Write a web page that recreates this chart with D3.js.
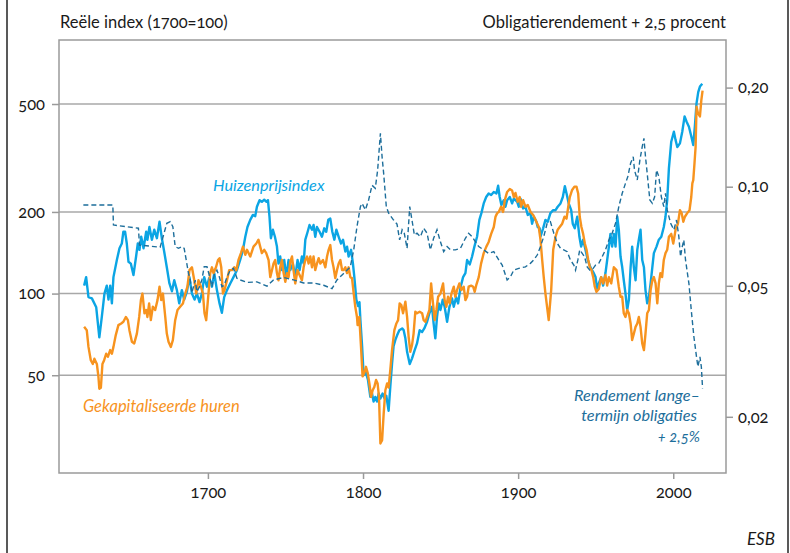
<!DOCTYPE html>
<html>
<head>
<meta charset="utf-8">
<script src="https://cdn.jsdelivr.net/npm/d3@7"></script>
<style>
  body { margin: 0; background: #fff; }
  svg text { font-family: Lato, "Open Sans", sans-serif; font-variant-numeric: oldstyle-nums; }
</style>
</head>
<body>
<div id="chart"></div>
<script>
// house price index (1700=100)
var huizenprijs = [
  [1620.2,107],[1621.5,115],[1623,97],[1625.2,96],[1628,89],[1630,69],[1631.6,82],[1633.3,100],[1634.8,107],[1635.9,95],
  [1637,107],[1638.1,92],[1639.1,115],[1641.3,133],[1643,147],[1644.5,153],[1645.5,169],[1646.6,169],[1647.7,153],[1648.8,131],
  [1650.3,129],[1652,117],[1653.7,137],[1654.8,153],[1655.9,145],[1657,162],[1658.5,147],[1660.2,169],[1661,158],[1662.3,176],
  [1663.9,158],[1665.4,172],[1667.1,160],[1668.8,184],[1670.3,160],[1671.8,143],[1673.5,125],[1675.2,109],[1676.8,102],[1678.3,112],
  [1680,103],[1681.5,92],[1683.2,103],[1684.7,95],[1686.5,102],[1688.1,115],[1689.7,100],[1691.4,95],[1692.9,100],[1694.6,93],
  [1696.1,100],[1697.6,115],[1699.4,106],[1700.8,114],[1702.6,106],[1704.1,119],[1705.8,103],[1707.5,92],[1709,85],[1710.5,97],
  [1712.3,103],[1714.4,109],[1716.5,115],[1718.7,122],[1720.8,133],[1722.6,145],[1724.1,162],[1725.5,176],[1727.3,187],[1729,195],
  [1730.5,193],[1731.6,209],[1733.3,221],[1734.8,218],[1736.3,222],[1737.6,218],[1738.7,221],[1739.7,192],[1740.6,160],[1741.9,172],
  [1743.2,162],[1744.5,149],[1745.5,129],[1746.6,137],[1747.7,122],[1749.2,133],[1750.5,115],[1752,133],[1753.1,122],[1754.8,129],
  [1756.3,115],[1757.8,133],[1759.1,122],[1760.6,137],[1761.7,129],[1762.8,158],[1764.3,169],[1765.5,179],[1767.1,172],[1768.1,179],
  [1769.2,162],[1770.3,176],[1772,169],[1773.5,162],[1775,174],[1776.3,169],[1777.6,187],[1778.9,189],[1780.2,169],[1781.5,158],
  [1782.8,172],[1784.3,162],[1785.8,153],[1787.1,158],[1788.6,143],[1789.7,149],[1790.7,137],[1792.3,145],[1793.5,129],[1794.4,115],
  [1795.7,95],[1796.8,90],[1797.7,93],[1798.3,80],[1799.4,64],[1800.4,50],[1801.9,51],[1803.2,48],[1804.7,41.6],[1805.8,42.8],
  [1806.8,40],[1807.9,41.6],[1809,40],[1810.1,42.8],[1811.2,41],[1812.6,42.8],[1813.9,41],[1815,42],[1816.5,37],[1817.6,45.5],
  [1818.7,55],[1819.7,64],[1820.8,67.4],[1821.9,70],[1823.4,73.3],[1825.2,74.4],[1826.2,73.3],[1827.3,68.4],[1828.4,61],[1830.1,55],
  [1831.6,57.7],[1833.3,61.9],[1834.8,65.5],[1836.5,73.3],[1838.1,72.2],[1839.5,74.4],[1841.3,78.7],[1842.8,84.6],[1844.5,89.4],[1845.5,77.6],
  [1846.6,68.4],[1847.7,82],[1848.8,92],[1849.9,87],[1851.4,95],[1852.6,89.4],[1854.2,78.7],[1855.7,89.4],[1857.4,96],[1858.5,89.4],
  [1860,97],[1861.3,92],[1862.8,105],[1864.5,115],[1866,119],[1867.1,133],[1868.8,128],[1870.3,137],[1871.8,149],[1873.5,162],
  [1875,187],[1876.3,198],[1877.8,215],[1879.4,227],[1881,234],[1882.6,231],[1884.3,237],[1886,234],[1887.1,250],[1888.1,227],
  [1889.2,212],[1890.7,221],[1891.8,209],[1892.9,221],[1894.6,227],[1896.1,215],[1897.2,224],[1899.4,218],[1900.4,209],[1901.5,224],
  [1903.2,206],[1904.7,209],[1906.2,195],[1907.9,198],[1909,181],[1910.1,192],[1911.8,184],[1912.6,176],[1913.9,174],[1914.4,162],
  [1916.1,174],[1917.6,187],[1919.1,184],[1920.8,198],[1922.6,203],[1924.1,203],[1925.5,209],[1927.3,215],[1928.8,227],[1930.1,249],
  [1931.2,234],[1932.6,215],[1934.2,203],[1935.2,181],[1936.5,174],[1938.1,192],[1939.5,162],[1940.6,149],[1941.9,158],[1943.4,145],
  [1944.9,133],[1946.6,125],[1948.4,120],[1949.9,115],[1951,103],[1952,109],[1953.5,115],[1954.8,107],[1956.3,119],[1957.4,133],
  [1958.5,149],[1959.5,166],[1960.6,149],[1961.7,166],[1962.8,149],[1963.9,192],[1964.9,172],[1966,137],[1967.1,125],[1968.1,112],
  [1969.2,100],[1970.3,87],[1971.4,95],[1972.5,125],[1973.5,149],[1974.6,125],[1975.7,112],[1976.8,145],[1977.8,158],[1978.9,172],
  [1980,133],[1981.1,125],[1982.1,103],[1983.2,92],[1984.3,97],[1985.4,109],[1986.5,125],[1987.5,141],[1989.2,149],[1990.7,158],
  [1992.3,162],[1993.9,176],[1995,192],[1996.1,221],[1997.2,290],[1998.7,363],[2000.4,395],[2001.5,368],[2002.6,347],[2004.3,358],
  [2005.8,395],[2007.3,450],[2008.6,430],[2010.1,412],[2011.6,380],[2012.9,353],[2013.9,412],[2015,503],[2016.1,553],[2017.2,580],
  [2018.7,594]
];

// capitalised rents (1700=100)
var huren = [
  [1620.2,75.4],[1621.9,73.3],[1623,63.6],[1624.5,56.8],[1625.8,55],[1626.8,57.5],[1628.4,55],[1629.4,49.5],[1630,44.6],[1631,45],
  [1632,55],[1633.1,56.8],[1634.4,60],[1635.5,58.5],[1637,61.9],[1638.1,60],[1639.1,63.6],[1640.6,70.3],[1642.3,76.5],[1644.1,77.6],
  [1645.5,78.7],[1647.1,82],[1648.4,79.8],[1649.4,73.3],[1651,66.4],[1652.5,65.5],[1654.2,71.2],[1655.7,82],[1656.8,94.6],[1657.8,100],
  [1659.1,84.6],[1660.2,87],[1661,82],[1662.1,92],[1663.2,79.8],[1664.5,89.4],[1666,87],[1667.5,94.6],[1668.8,106],[1669.9,94.6],
  [1671,100],[1672.5,82],[1673.5,71.2],[1674.6,66.4],[1676.1,63.6],[1677.4,67.4],[1678.9,79.8],[1680.4,87],[1682.1,89.4],[1683.9,92],
  [1685.4,100],[1686.8,106],[1688.1,122],[1689.7,125],[1691.2,112],[1692.5,100],[1693.9,112],[1695.5,106],[1696.8,100],[1697.8,84.6],
  [1698.9,79.8],[1700,94.6],[1701.5,119],[1702.6,125],[1703.6,119],[1705.2,125],[1706.5,133],[1707.5,135],[1708.6,125],[1709.7,100],
  [1710.7,103],[1712.3,112],[1713.7,122],[1715.5,122],[1717,125],[1718.3,122],[1719.7,133],[1721.3,141],[1722.6,149],[1724.1,139],
  [1725.2,145],[1727.3,137],[1729.4,149],[1731.2,153],[1732.6,158],[1733.7,149],[1734.8,141],[1736.3,145],[1737.6,141],[1739.1,133],
  [1740.2,115],[1741.3,122],[1742.3,129],[1743.4,133],[1744.5,119],[1745.5,112],[1746.6,125],[1747.7,133],[1748.8,119],[1749.9,110.5],
  [1751,119],[1752,115],[1753.1,131],[1754.2,137],[1755.2,122],[1756.3,109],[1757.8,122],[1759.1,117],[1760.6,112],[1761.7,125],
  [1762.8,133],[1763.9,137],[1764.9,129],[1766,137],[1767.1,125],[1768.1,137],[1769.2,122],[1770.3,129],[1771.4,135],[1772.5,129],
  [1774.2,133],[1775.7,125],[1776.8,137],[1777.8,145],[1778.9,151],[1780,133],[1781,125],[1782.1,114],[1783.2,122],[1784.3,129],
  [1785.4,133],[1786.5,122],[1787.5,122],[1788.6,125],[1789.7,119],[1790.7,125],[1791.8,115],[1792.9,114],[1794,100],[1795,89.4],
  [1796.1,82],[1796.5,76.5],[1797.6,82],[1798.7,63.6],[1799.7,49.5],[1800.8,51],[1801.9,53.7],[1803,51],[1804.1,46.6],[1805.2,41.6],
  [1806.2,44],[1807.3,45.3],[1808.4,48],[1809.4,46.6],[1810.3,41.6],[1811.2,28],[1812.3,28.8],[1813.3,36],[1814.4,44],[1815.5,46.6],
  [1816.5,45],[1817.6,52.4],[1818.7,61.9],[1820.2,73.3],[1821.5,77.6],[1822.6,79.8],[1823.6,92],[1824.7,90.7],[1825.8,84.6],[1827.3,93.3],
  [1828.4,82],[1829.4,69.3],[1830.5,61],[1831.6,64.6],[1832.6,71.2],[1833.7,85.7],[1834.8,84.6],[1836.5,85.7],[1838.1,84.6],[1839.1,79.8],
  [1840.2,78.7],[1841.3,82],[1842.8,87],[1843.9,109],[1844.9,94.6],[1846.2,79.8],[1847.3,87],[1848.4,97.3],[1849.9,100],[1851.6,109],
  [1852.6,94.6],[1853.7,89.4],[1854.8,97.3],[1855.9,92],[1857,100],[1858.5,106],[1859.5,97.3],[1860.6,103],[1862.1,109],[1863.4,103],
  [1864.9,106],[1866,94.6],[1867.1,97.3],[1868.1,106],[1869.7,107],[1871,106],[1872,101.5],[1873.1,108],[1874.6,115],[1876.1,129],
  [1877.8,141],[1879.5,149],[1881,155],[1882.6,166],[1884.3,176],[1885.4,192],[1886.5,198],[1887.5,200],[1889,209],[1890.3,200],
  [1891.4,221],[1892.9,237],[1894.6,243],[1896.1,240],[1897.2,227],[1898.3,235],[1899.7,218],[1901,227],[1901.9,209],[1903.2,221],
  [1904.7,209],[1906.2,212],[1908,200],[1909.7,195],[1911.2,187],[1912.3,181],[1913.3,176],[1914.4,158],[1915.5,133],[1916.5,115],
  [1917.6,100],[1919.7,79.8],[1921.3,103],[1922.6,145],[1924.1,162],[1925.5,172],[1926.8,176],[1928.4,181],[1929.9,192],[1931.2,189],
  [1932.3,209],[1933.3,227],[1934.8,241],[1936.3,248],[1937.6,248],[1938.7,234],[1939.7,192],[1940.8,176],[1941.9,166],[1943,153],
  [1944.1,145],[1945.2,133],[1946.2,125],[1947.3,122],[1948.4,115],[1949.4,106],[1950.5,101.5],[1952,104],[1953.5,115],[1954.8,109],
  [1956.3,117],[1957.4,107],[1958.5,115],[1960,109],[1961.7,125],[1963.4,122],[1964.9,106],[1966,97.3],[1967.1,97.3],[1968.1,84.6],
  [1969.2,82],[1970.3,87],[1971.4,84.6],[1972.5,77.6],[1973.5,67.4],[1974.6,71.2],[1975.7,75.4],[1976.8,77.6],[1977.8,82],[1978.9,75.4],
  [1980,65.5],[1981.1,61.9],[1982.1,71.2],[1983.2,84.6],[1984.3,87],[1985.4,103],[1986.5,112],[1987.5,115],[1988.6,109],[1989.7,92],
  [1990.7,109],[1991.7,119],[1992.8,115],[1993.9,133],[1995,141],[1996.1,145],[1997.2,162],[1998.7,166],[2000,153],[2001.5,172],
  [2003,181],[2004.3,203],[2005.4,198],[2006.5,184],[2007.5,192],[2009,198],[2010.5,203],[2011.6,227],[2012.3,255],[2012.9,262],
  [2013.7,303],[2014.4,347],[2015,489],[2015.9,463],[2017.2,450],[2018.1,517],[2018.9,560]
];

// long-term bond yield + 2.5% (right axis)
var rendement = [
  [1619.7,0.088],[1638.7,0.088],[1639.1,0.0765],[1655.2,0.0748],[1655.9,0.0665],[1669.2,0.0655],[1673.5,0.0774],[1675.7,0.0783],
  [1677.4,0.0756],[1678.9,0.0658],[1681,0.065],[1683.2,0.0658],[1684.7,0.065],[1686,0.0599],[1687.5,0.0545],[1688.6,0.0521],
  [1689.7,0.0476],[1690.7,0.0497],[1691.8,0.052],[1692.9,0.048],[1694.6,0.0497],[1696.1,0.0521],[1697.6,0.0571],[1699.4,0.0571],
  [1700.8,0.054],[1702.6,0.0497],[1704.1,0.054],[1705.8,0.0558],[1707.5,0.053],[1709,0.0497],[1710.5,0.0502],[1712.3,0.0532],
  [1714.4,0.0558],[1716.5,0.0565],[1718.7,0.0527],[1720.8,0.0521],[1725.2,0.0512],[1731.6,0.0514],[1738.1,0.0499],[1742.3,0.0521],
  [1748.8,0.053],[1755.2,0.0521],[1761.7,0.051],[1768.1,0.051],[1774.6,0.0502],[1780,0.049],[1783.2,0.0521],[1787.5,0.0545],
  [1791.8,0.0571],[1794,0.0643],[1796.1,0.0756],[1798.3,0.087],[1799.4,0.089],[1801.5,0.085],[1803.6,0.0911],[1805.8,0.101],
  [1807.9,0.0989],[1809.4,0.112],[1811.2,0.1453],[1812.3,0.123],[1813.3,0.1098],[1815,0.087],[1816.5,0.0831],[1819.7,0.0792],
  [1821.9,0.077],[1823.6,0.0689],[1825.2,0.074],[1826.6,0.0722],[1828.4,0.065],[1830.1,0.087],[1831.6,0.079],[1833.1,0.0713],
  [1834.8,0.0722],[1837,0.0705],[1839.1,0.0748],[1841.3,0.0722],[1843.4,0.0643],[1845.5,0.0697],[1847.7,0.074],[1849.9,0.068],
  [1852,0.0635],[1854.2,0.0658],[1856.3,0.0643],[1859.5,0.0643],[1862.8,0.065],[1866,0.0697],[1868.1,0.0722],[1870.3,0.0705],
  [1872.5,0.068],[1874.6,0.0658],[1877.8,0.0643],[1881,0.0627],[1884.3,0.0635],[1887.5,0.0599],[1889.7,0.0578],[1892.9,0.0521],
  [1895,0.0532],[1897.2,0.0558],[1900.4,0.0565],[1904.7,0.0571],[1907.9,0.0585],[1910.1,0.0599],[1912.3,0.062],[1914.4,0.0658],
  [1916.5,0.0705],[1918.7,0.0774],[1920.8,0.0783],[1923,0.0722],[1925.2,0.0673],[1927.3,0.065],[1929.4,0.0643],[1931.6,0.0635],
  [1933.7,0.0599],[1935.9,0.0578],[1937,0.0558],[1938.5,0.0599],[1939.7,0.0643],[1941.3,0.0627],[1942.8,0.0613],[1944.5,0.0571],
  [1946.2,0.0558],[1948.4,0.0565],[1949.9,0.0578],[1952,0.0585],[1954.2,0.0613],[1956.3,0.0643],[1958.5,0.0689],[1960.6,0.0722],
  [1962.8,0.0774],[1964.9,0.087],[1967.1,0.0955],[1969.2,0.1024],[1970.7,0.1073],[1972.5,0.1178],[1974.2,0.1233],[1975,0.1124],
  [1976.8,0.1048],[1978.5,0.1206],[1980,0.1323],[1981.1,0.1403],[1982.1,0.1233],[1983.2,0.1098],[1984.9,0.0911],[1986.5,0.089],
  [1988,0.0932],[1989.2,0.1124],[1990.7,0.1073],[1992.3,0.0932],[1993.9,0.087],[1995,0.0955],[1996.1,0.085],[1998.3,0.0774],
  [2000.4,0.074],[2002.1,0.0792],[2003.6,0.0705],[2004.7,0.0613],[2005.8,0.0658],[2006.8,0.0689],[2007.9,0.0599],[2010.1,0.0508],
  [2011.6,0.0422],[2013.3,0.035],[2015,0.0304],[2015.9,0.0284],[2017.2,0.0304],[2018.1,0.0284],[2018.9,0.0244]
];

// tick values
var yearTicks = [1700, 1800, 1900, 2000];
var leftTicks = [50, 100, 200, 500];
var rightTicks = [0.02, 0.05, 0.10, 0.20];

var svgWidth = 790;
var svgHeight = 553;
var margin = { top: 40, right: 64, bottom: 80, left: 59 };
var width = svgWidth - margin.left - margin.right;
var height = svgHeight - margin.top - margin.bottom;

var blue = "#0ba5e4";
var orange = "#f7931e";
var darkBlue = "#1d6e9b";
var grey = "#9a9a9a";

var svg = d3.select("#chart")
  .append("svg")
  .attr("width", svgWidth)
  .attr("height", svgHeight);

// outer frame edges
svg.append("line").attr("x1", 7).attr("x2", 7).attr("y1", 0).attr("y2", svgHeight)
  .attr("stroke", "#222").attr("stroke-width", 1.5);
svg.append("line").attr("x1", 788).attr("x2", 788).attr("y1", 0).attr("y2", svgHeight)
  .attr("stroke", "#222").attr("stroke-width", 1.5);

var chartGroup = svg.append("g")
  .attr("transform", `translate(${margin.left}, ${margin.top})`);

// scales
var xScale = d3.scaleLinear().domain([1604, 2034]).range([0, width]);
var yLeft = d3.scaleLog().domain([21.8, 861]).range([height, 0]);
var yRight = d3.scaleLog().domain([0.0135, 0.279]).range([height, 0]);

var nl = d3.formatLocale({ decimal: ",", thousands: ".", grouping: [3], currency: ["€", ""] });

// gridlines
chartGroup.selectAll(".grid")
  .data(leftTicks)
  .enter()
  .append("line")
  .attr("x1", 0)
  .attr("x2", width)
  .attr("y1", d => yLeft(d))
  .attr("y2", d => yLeft(d))
  .attr("stroke", "#a8a8a8")
  .attr("stroke-width", 1.5);

// axes
var leftAxis = d3.axisLeft(yLeft).tickValues(leftTicks).tickFormat(d3.format("d")).tickSize(7).tickPadding(7);
var rightAxis = d3.axisRight(yRight).tickValues(rightTicks).tickFormat(nl.format(".2f")).tickSize(7).tickPadding(5);
var bottomAxis = d3.axisBottom(xScale).tickValues(yearTicks).tickFormat(d3.format("d")).tickSize(6).tickPadding(7);

chartGroup.append("g").attr("class", "axis").call(leftAxis);
chartGroup.append("g").attr("class", "axis").attr("transform", `translate(${width}, 0)`).call(rightAxis);
chartGroup.append("g").attr("class", "axis").attr("transform", `translate(0, ${height})`).call(bottomAxis);

chartGroup.selectAll(".axis .domain").remove();
chartGroup.selectAll(".axis line").attr("stroke", grey).attr("stroke-width", 1.5);
chartGroup.selectAll(".axis text")
  .attr("font-size", 16.5)
  .attr("fill", "#1a1a1a")
  .style("font-family", "Lato, 'Open Sans', sans-serif");

// plot frame
chartGroup.append("rect")
  .attr("width", width)
  .attr("height", height)
  .attr("fill", "none")
  .attr("stroke", grey)
  .attr("stroke-width", 1.5);

// lines
var lineLeft = d3.line().x(d => xScale(d[0])).y(d => yLeft(d[1]));
var lineRight = d3.line().x(d => xScale(d[0])).y(d => yRight(d[1]));

chartGroup.append("path")
  .datum(huizenprijs)
  .attr("d", lineLeft)
  .attr("fill", "none")
  .attr("stroke", blue)
  .attr("stroke-width", 2.4)
  .attr("stroke-linejoin", "round");

chartGroup.append("path")
  .datum(huren)
  .attr("d", lineLeft)
  .attr("fill", "none")
  .attr("stroke", orange)
  .attr("stroke-width", 2.4)
  .attr("stroke-linejoin", "round");

chartGroup.append("path")
  .datum(rendement)
  .attr("d", lineRight)
  .attr("fill", "none")
  .attr("stroke", darkBlue)
  .attr("stroke-width", 1.4)
  .attr("stroke-dasharray", "5,3");

// axis titles
svg.append("text")
  .attr("x", 60).attr("y", 28)
  .attr("font-size", 16.5).attr("fill", "#1a1a1a")
  .text("Reële index (1700=100)");

svg.append("text")
  .attr("x", 726).attr("y", 28)
  .attr("text-anchor", "end")
  .attr("font-size", 16.5).attr("fill", "#1a1a1a")
  .text("Obligatierendement + 2,5 procent");

// series labels
svg.append("text")
  .attr("x", 213).attr("y", 191)
  .attr("font-size", 16.3).attr("font-style", "italic").attr("fill", blue)
  .text("Huizenprijsindex");

svg.append("text")
  .attr("x", 83).attr("y", 412)
  .attr("font-size", 16.5).attr("font-style", "italic").attr("fill", orange)
  .text("Gekapitaliseerde huren");

var bondLabel = svg.append("g")
  .attr("font-style", "italic")
  .attr("fill", darkBlue)
  .attr("text-anchor", "end");
bondLabel.append("text").attr("x", 700).attr("y", 401).attr("font-size", 16.3).text("Rendement lange–");
bondLabel.append("text").attr("x", 697).attr("y", 421).attr("font-size", 16.3).text("termijn obligaties");
bondLabel.append("text").attr("x", 700).attr("y", 442).attr("font-size", 15).text("+ 2,5%");

svg.append("text")
  .attr("x", 775).attr("y", 545)
  .attr("text-anchor", "end")
  .attr("font-size", 17).attr("font-style", "italic").attr("fill", "#1a1a1a")
  .text("ESB");
</script>
</body>
</html>
